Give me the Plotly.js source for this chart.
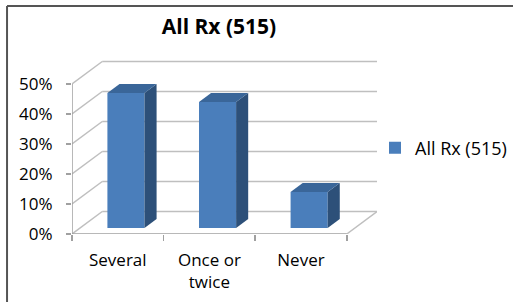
<!DOCTYPE html>
<html>
<head>
<meta charset="utf-8">
<script src="https://cdn.plot.ly/plotly-3.0.1.min.js"></script>
<style>html,body{margin:0;padding:0;background:#fff;overflow:hidden}#chart{width:513px;height:302px}</style>
</head>
<body>
<div id="chart"></div>
<script>
// ---- data ----
const categories = ['Several', 'Once or<br>twice', 'Never'];
const values = [45, 42, 12];
const seriesName = 'All Rx (515)';
const yTickVals = [0, 10, 20, 30, 40, 50];
const yTickText = ['0%', '10%', '20%', '30%', '40%', '50%'];
const chartTitle = 'All Rx (515)';

// ---- 3D-look geometry (in axis units) ----
const DX = 0.33, DY = 7.5;          // wall depth offset
const F = 0.27;                     // bar depth position
const BW = 0.405;                   // bar width
const BDX = 0.132, BDY = 3.0;       // bar depth
const GRID = '#BFBFBF', AXIS = '#A0A0A0';
const FRONT = '#4A7EBB', SIDE = '#2D5079', TOP = '#3A6699';
const FONT = 'Open Sans, sans-serif';

const xIdx = categories.map((c, i) => i);
const xMin = -0.5, xMax = categories.length - 0.5;

const shapes = [];
// back wall gridlines + left wall diagonals
yTickVals.forEach(v => {
  shapes.push({type: 'line', xref: 'x', yref: 'y', x0: xMin + DX, x1: xMax + DX, y0: v + DY, y1: v + DY,
    line: {color: GRID, width: 1.5}, layer: 'below'});
  shapes.push({type: 'line', xref: 'x', yref: 'y', x0: xMin, x1: xMin + DX, y0: v, y1: v + DY,
    line: {color: GRID, width: 1.5}, layer: 'below'});
});
// floor right edge
shapes.push({type: 'line', xref: 'x', yref: 'y', x0: xMax, x1: xMax + DX, y0: 0, y1: DY,
  line: {color: GRID, width: 1.5}, layer: 'below'});
// front axis lines
shapes.push({type: 'line', xref: 'x', yref: 'y', x0: xMin, x1: xMax, y0: 0, y1: 0,
  line: {color: AXIS, width: 1.5}, layer: 'below'});
shapes.push({type: 'line', xref: 'x', yref: 'y', x0: xMin, x1: xMin, y0: 0, y1: yTickVals[yTickVals.length - 1],
  line: {color: AXIS, width: 1.5}, layer: 'below'});
// outer chart border (top & left visible)
shapes.push({type: 'line', xref: 'paper', yref: 'paper', x0: -0.213, x1: 1.46, y0: 1.31, y1: 1.31,
  line: {color: '#555555', width: 2}});
shapes.push({type: 'line', xref: 'paper', yref: 'paper', x0: -0.213, x1: -0.213, y0: 1.31, y1: -0.45,
  line: {color: '#555555', width: 2}});

const traces = [];
const bx = xIdx.map(i => i + F * DX);
const base = F * DY;

traces.push({
  type: 'bar', x: bx, y: values, base: base, width: BW, name: seriesName,
  marker: {color: FRONT, line: {width: 0}}, hoverinfo: 'skip', showlegend: true
});

values.forEach((v, i) => {
  const xl = bx[i] - BW / 2, xr = bx[i] + BW / 2, yb = base, yt = base + v;
  // side face
  traces.push({type: 'scatter', mode: 'lines', fill: 'toself', fillcolor: SIDE,
    x: [xr, xr, xr + BDX, xr + BDX, xr], y: [yb, yt, yt + BDY, yb + BDY, yb],
    line: {width: 0, color: SIDE}, showlegend: false, hoverinfo: 'skip'});
  // top face
  traces.push({type: 'scatter', mode: 'lines', fill: 'toself', fillcolor: TOP,
    x: [xl, xr, xr + BDX, xl + BDX, xl], y: [yt, yt, yt + BDY, yt + BDY, yt],
    line: {width: 0, color: TOP}, showlegend: false, hoverinfo: 'skip'});
});

// invisible trace to activate boundary-tick axis
traces.push({type: 'scatter', x: [xMin], y: [0], xaxis: 'x2', mode: 'markers',
  marker: {opacity: 0}, showlegend: false, hoverinfo: 'skip'});

const xRange = [xMin, xMax + DX];
const layout = {
  width: 513, height: 302,
  margin: {l: 72, r: 136, t: 60, b: 68, autoexpand: false},
  paper_bgcolor: '#ffffff', plot_bgcolor: 'rgba(0,0,0,0)',
  font: {family: FONT, size: 17, color: '#000000'},
  title: {text: '<b>' + chartTitle + '</b>', font: {family: FONT, size: 21, color: '#000000'},
    x: 219 / 513, xanchor: 'center', y: 1 - 27 / 302, yanchor: 'middle'},
  xaxis: {range: xRange, tickvals: xIdx, ticktext: categories, ticks: '', showgrid: false,
    zeroline: false, showline: false, ticklabelstandoff: 14, fixedrange: true,
    tickfont: {family: FONT, size: 17, color: '#000'}},
  xaxis2: {range: xRange, overlaying: 'x', side: 'bottom', tickvals: [-0.5, 0.5, 1.5, 2.5],
    ticks: 'outside', ticklen: 6, tickwidth: 1.5, tickcolor: AXIS, showticklabels: false,
    showgrid: false, zeroline: false, showline: false},
  yaxis: {range: [0, 58], tickvals: yTickVals, ticktext: yTickText, ticks: 'outside', ticklen: 5,
    tickwidth: 1.5, tickcolor: AXIS, showgrid: false, zeroline: false, showline: false,
    ticklabelstandoff: 10, tickfont: {family: FONT, size: 17, color: '#000'}},
  showlegend: true,
  legend: {x: (375 - 72) / 305, xanchor: 'left', y: (234 - 148) / 174, yanchor: 'middle',
    font: {family: FONT, size: 18, color: '#000'}, bgcolor: 'rgba(0,0,0,0)', itemwidth: 30},
  shapes: shapes,
  barmode: 'overlay'
};

Plotly.newPlot('chart', traces, layout, {staticPlot: true, displayModeBar: false});
</script>
</body>
</html>
